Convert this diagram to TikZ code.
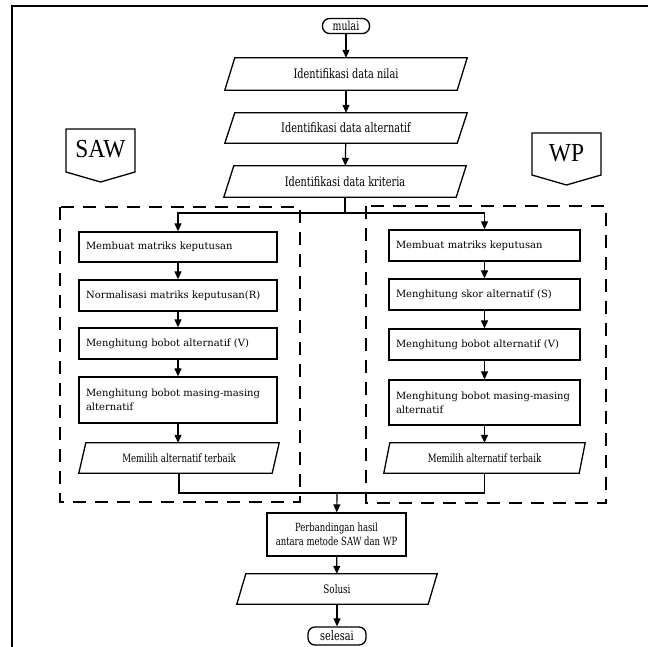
\documentclass[tikz,border=0pt]{standalone}
\usepackage{fontspec}
\setmainfont{DejaVu Serif}
\newfontfamily\condf{DejaVu Serif}[FakeStretch=0.75]
\newfontfamily\bigserif{Liberation Serif}[FakeStretch=0.9]
\usetikzlibrary{arrows.meta,calc}
\tikzset{
  boxline/.style={line width=1.3pt},
  conn/.style={line width=1.2pt},
  arr/.style={conn,-{Triangle[length=8pt,width=7pt]}},
  dashbox/.style={line width=2pt,dash pattern=on 13pt off 9pt},
  colbox/.style={draw,boxline,inner sep=0pt,align=left,font=\fontsize{10}{14}\selectfont},
  paratext/.style={inner sep=0pt},
  term/.style={draw,boxline,inner sep=0pt,rounded corners=7pt,font=\condf\fontsize{12.5}{14}\selectfont},
}
\newcommand\drawpara[2]{\draw[boxline] ([xshift=#2]#1.north west) -- (#1.north east) -- ([xshift=-#2]#1.south east) -- (#1.south west) -- cycle;}
\begin{document}
\begin{tikzpicture}[x=1pt,y=-1pt]
\useasboundingbox (0,0) rectangle (648,647);
% frame
\draw[line width=1.8pt] (12,647) -- (12,6) -- (648,6);

% top chain
\node[term,minimum width=47,minimum height=15] (mulai) at (346,26) {mulai};
\node[paratext,minimum width=242,minimum height=32,font=\condf\fontsize{13}{15}\selectfont] (nilai) at (346,74) {Identifikasi data nilai};
\drawpara{nilai}{10pt}
\node[paratext,minimum width=242,minimum height=30,font=\condf\fontsize{13}{15}\selectfont] (alt) at (346,128) {Identifikasi data alternatif};
\drawpara{alt}{10pt}
\node[paratext,minimum width=242,minimum height=31,font=\condf\fontsize{13}{15}\selectfont] (krit) at (345,181.5) {Identifikasi data kriteria};
\drawpara{krit}{10pt}

\draw[arr] (mulai) -- (nilai);
\draw[arr] (nilai) -- (alt);
\draw[arr] (alt) -- (krit);

% SAW / WP labels
\node[inner sep=0pt,font=\bigserif\fontsize{26}{28}\selectfont] (saw) at (100.5,149) {SAW};
\draw[boxline] (66,129) -- (135,129) -- (135,172) -- (100.5,182) -- (66,172) -- cycle;
\node[inner sep=0pt,font=\bigserif\fontsize{26}{28}\selectfont] (wp) at (566.5,153) {WP};
\draw[boxline] (532,133) -- (601,133) -- (601,175) -- (566.5,185) -- (532,175) -- cycle;

% dashed groups
\draw[dashbox] (60,207) rectangle (300,502);
\draw[dashbox] (366,206) rectangle (606,503);

% left column (SAW)
\node[colbox,minimum width=198,minimum height=30,text width=184] (l1) at (178,247) {Membuat matriks keputusan};
\node[colbox,minimum width=198,minimum height=31,text width=184] (l2) at (178,295.5) {Normalisasi matriks keputusan(R)};
\node[colbox,minimum width=198,minimum height=31,text width=184] (l3) at (178,343.5) {Menghitung bobot alternatif (V)};
\node[colbox,minimum width=198,minimum height=46,text width=184] (l4) at (178,400) {Menghitung bobot masing-masing\\alternatif};
\node[paratext,minimum width=200,minimum height=30,font=\condf\fontsize{11.5}{13}\selectfont] (l5) at (179,458) {Memilih alternatif terbaik};
\drawpara{l5}{7pt}

% right column (WP)
\node[colbox,minimum width=191,minimum height=31,text width=177] (r1) at (484.5,245.5) {Membuat matriks keputusan};
\node[colbox,minimum width=191,minimum height=31,text width=177] (r2) at (484.5,294.5) {Menghitung skor alternatif (S)};
\node[colbox,minimum width=191,minimum height=31,text width=177] (r3) at (484.5,344.5) {Menghitung bobot alternatif (V)};
\node[colbox,minimum width=191,minimum height=45,text width=177] (r4) at (484.5,402.5) {Menghitung bobot masing-masing\\alternatif};
\node[paratext,minimum width=201,minimum height=30,font=\condf\fontsize{11.5}{13}\selectfont] (r5) at (484.5,458) {Memilih alternatif terbaik};
\drawpara{r5}{6pt}

% split
\coordinate (top) at (345,213);
\draw[conn] (krit) -- (top);
\draw[arr] (top) -| (l1.north);
\draw[arr] (top) -| (r1.north);
\draw[arr] (l1) -- (l2);
\draw[arr] (l2) -- (l3);
\draw[arr] (l3) -- (l4);
\draw[arr] (l4) -- (l4 |- l5.north);
\draw[arr] (r1) -- (r2);
\draw[arr] (r2) -- (r3);
\draw[arr] (r3) -- (r4);
\draw[arr] (r4) -- (r4 |- r5.north);

% merge
\coordinate (join) at (337,493);
\draw[conn] (l5.south) |- (join) -| (r5.south);

% bottom chain
\node[draw,boxline,inner sep=0pt,minimum width=139,minimum height=43,align=center,font=\condf\fontsize{11.3}{14}\selectfont] (banding) at (336.5,534.5) {Perbandingan hasil\\antara metode SAW dan WP};
\node[paratext,minimum width=200,minimum height=30,font=\condf\fontsize{11.7}{13}\selectfont] (solusi) at (337,589) {Solusi};
\drawpara{solusi}{9pt}
\node[term,minimum width=58,minimum height=18,font=\condf\fontsize{13}{15}\selectfont] (selesai) at (337,636) {selesai};

\draw[arr] (join) -- (banding);
\draw[arr] (banding) -- (solusi);
\draw[arr] (solusi) -- (selesai);
\end{tikzpicture}
\end{document}
